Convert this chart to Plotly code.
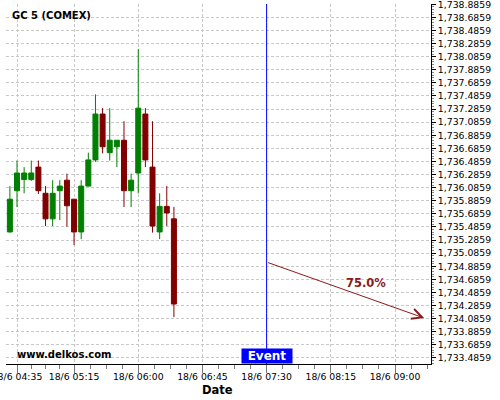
import plotly.graph_objects as go

times = ["2024-06-18 04:30", "2024-06-18 04:35", "2024-06-18 04:40", "2024-06-18 04:45",
         "2024-06-18 04:50", "2024-06-18 04:55", "2024-06-18 05:00", "2024-06-18 05:05",
         "2024-06-18 05:10", "2024-06-18 05:15", "2024-06-18 05:20", "2024-06-18 05:25",
         "2024-06-18 05:30", "2024-06-18 05:35", "2024-06-18 05:40", "2024-06-18 05:45",
         "2024-06-18 05:50", "2024-06-18 05:55", "2024-06-18 06:00", "2024-06-18 06:05",
         "2024-06-18 06:10", "2024-06-18 06:15", "2024-06-18 06:20", "2024-06-18 06:25"]
opens = [1735.41, 1736.04, 1736.21, 1736.21, 1736.40, 1736.00, 1735.61, 1736.04,
         1736.20, 1735.91, 1735.41, 1736.11, 1736.51, 1737.21, 1736.62, 1736.71,
         1736.81, 1736.04, 1736.31, 1737.21, 1736.40, 1735.41, 1735.80, 1735.61]
highs = [1736.11, 1736.50, 1736.40, 1736.50, 1736.50, 1736.11, 1736.20, 1736.20,
         1736.30, 1735.91, 1736.20, 1736.62, 1737.51, 1737.30, 1737.30, 1736.81,
         1737.10, 1736.30, 1738.20, 1737.30, 1737.10, 1736.00, 1736.11, 1735.79]
lows = [1735.40, 1735.79, 1736.00, 1736.19, 1735.99, 1735.50, 1735.50, 1735.59,
        1735.49, 1735.21, 1735.30, 1736.11, 1736.48, 1736.61, 1736.50, 1736.40,
        1735.79, 1735.79, 1736.00, 1736.40, 1735.40, 1735.30, 1735.50, 1734.11]
closes = [1735.91, 1736.31, 1736.31, 1736.31, 1736.04, 1735.61, 1736.00, 1736.11,
          1735.81, 1735.41, 1736.11, 1736.51, 1737.21, 1736.71, 1736.81, 1736.81,
          1736.04, 1736.20, 1737.30, 1736.51, 1735.50, 1735.80, 1735.70, 1734.31]

x_tick_vals = ["2024-06-18 04:35", "2024-06-18 05:15", "2024-06-18 06:00", "2024-06-18 06:45",
               "2024-06-18 07:30", "2024-06-18 08:15", "2024-06-18 09:00"]
x_minor_vals = ["2024-06-18 04:45", "2024-06-18 04:55", "2024-06-18 05:05",
                "2024-06-18 05:26:15", "2024-06-18 05:37:30", "2024-06-18 05:48:45",
                "2024-06-18 06:11:15", "2024-06-18 06:22:30", "2024-06-18 06:33:45",
                "2024-06-18 06:56:15", "2024-06-18 07:07:30", "2024-06-18 07:18:45",
                "2024-06-18 07:41:15", "2024-06-18 07:52:30", "2024-06-18 08:03:45",
                "2024-06-18 08:26:15", "2024-06-18 08:37:30", "2024-06-18 08:48:45",
                "2024-06-18 09:11:15", "2024-06-18 09:22:30"]
x_range = ["2024-06-18 04:27:17", "2024-06-18 09:25:14"]
y_range = [1733.394, 1738.89]
y_tick0 = 1733.4859
y_dtick = 0.2

event_time = "2024-06-18 07:30"
arrow_start = ("2024-06-18 07:30", 1734.95)
arrow_end = ("2024-06-18 09:20:25", 1734.096)
prob_label = "75.0%"
prob_pos = ("2024-06-18 08:39:30", 1734.625)

title_text = "GC 5 (COMEX)"
site_text = "www.delkos.com"
x_title = "Date"

FONT = "DejaVu Sans"
GREEN = "#008000"
RED = "#800000"
ARROW = "#8b1a1a"

L, R, T, B = 6, 69, 4, 36
W, H = 500, 400
pw, ph = W - L - R, H - T - B


def px_to_paper(px, py):
    return (px - L) / pw, 1 - (py - T) / ph


fig = go.Figure()
fig.add_trace(go.Candlestick(
    x=times, open=opens, high=highs, low=lows, close=closes,
    increasing=dict(line=dict(color=GREEN, width=1), fillcolor=GREEN),
    decreasing=dict(line=dict(color=RED, width=1), fillcolor=RED),
    whiskerwidth=0, showlegend=False, hoverinfo="skip",
))

fig.add_shape(type="line", xref="x", yref="paper", x0=event_time, x1=event_time,
              y0=0, y1=1, line=dict(color="#0000ff", width=1))

fig.add_annotation(x=arrow_end[0], y=arrow_end[1], ax=arrow_start[0], ay=arrow_start[1],
                   xref="x", yref="y", axref="x", ayref="y", text="",
                   showarrow=True, arrowhead=5, arrowsize=2, arrowwidth=1, arrowcolor=ARROW)
fig.add_annotation(x=prob_pos[0], y=prob_pos[1], xref="x", yref="y", text=prob_label,
                   showarrow=False, font=dict(family=FONT, size=11.5, color=ARROW, weight="bold"))
fig.add_annotation(x=event_time, y=0, xref="x", yref="paper", yanchor="bottom",
                   text="Event", showarrow=False, bgcolor="#0000ff", width=50, height=14,
                   borderpad=0, font=dict(family=FONT, size=12, color="white", weight="bold"))

tx, ty = px_to_paper(10, 16)
fig.add_annotation(x=tx, y=ty, xref="paper", yref="paper", xanchor="left", yanchor="middle",
                   text=title_text, showarrow=False,
                   font=dict(family=FONT, size=10, color="black", weight="bold"))
sx, sy = px_to_paper(15, 354)
fig.add_annotation(x=sx, y=sy, xref="paper", yref="paper", xanchor="left", yanchor="middle",
                   text=site_text, showarrow=False,
                   font=dict(family=FONT, size=10, color="black", weight="bold"))
dx, dy = px_to_paper(217, 389.5)
fig.add_annotation(x=dx, y=dy, xref="paper", yref="paper", xanchor="center", yanchor="middle",
                   text=x_title, showarrow=False,
                   font=dict(family=FONT, size=11.5, color="black", weight="bold"))

fig.update_layout(
    width=W, height=H,
    margin=dict(l=L, r=R, t=T, b=B, autoexpand=False),
    paper_bgcolor="white", plot_bgcolor="white",
    font=dict(family=FONT, size=9.3, color="black"),
    boxgap=0,
    showlegend=False,
    xaxis=dict(
        type="date", range=x_range, rangeslider=dict(visible=False), automargin=False,
        tickvals=x_tick_vals, tickformat="%-d/%-m %H:%M", ticklabeloverflow="allow",
        ticks="outside", ticklen=8, tickcolor="#777", ticklabelstandoff=-4,
        showline=True, linecolor="black", linewidth=1,
        showgrid=True, gridcolor="#c8c8c8", griddash="3px,2px", gridwidth=1,
        zeroline=False,
        minor=dict(tickvals=x_minor_vals, ticks="outside", ticklen=4, tickcolor="#777", showgrid=False),
    ),
    yaxis=dict(
        side="right", range=y_range, tick0=y_tick0, dtick=y_dtick, tickformat=",.4f",
        automargin=False, ticklabeloverflow="allow",
        ticks="outside", ticklen=4, tickcolor="black",
        showline=True, linecolor="black", linewidth=1,
        showgrid=True, gridcolor="#c8c8c8", griddash="3px,2px", gridwidth=1,
        zeroline=False,
        minor=dict(tick0=y_tick0, dtick=0.04, ticks="outside", ticklen=2, tickcolor="#888", showgrid=False),
    ),
)

fig.write_html("out.html", config={"displayModeBar": False},
               post_script="document.body.style.margin='0';document.body.style.overflow='hidden';")
